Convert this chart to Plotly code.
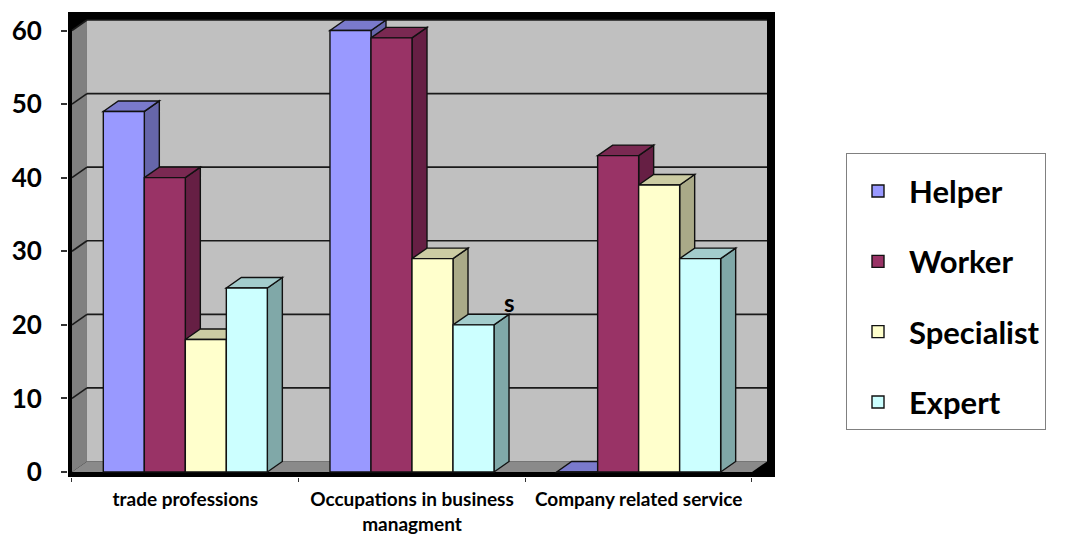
import plotly.graph_objects as go

# Occupation groups and the share of each qualification level
categories = ["trade professions", "Occupations in business<br>managment", "Company related service"]
series_names = ["Helper", "Worker", "Specialist", "Expert"]
helper = [49, 60, 0]
worker = [40, 59, 43]
specialist = [18, 29, 39]
expert = [25, 20, 29]
y_ticks = [0, 10, 20, 30, 40, 50, 60]

values = [helper, worker, specialist, expert]

# face colours: front, top, side
front_colors = ["#9999FF", "#993366", "#FFFFCC", "#CCFFFF"]
top_colors = ["#7A7ACC", "#7A2952", "#CCCCA3", "#A3CCCC"]
side_colors = ["#6666AA", "#661F44", "#AAAA88", "#80A8A8"]

# pseudo-3D depth offset (in axis units)
DX = 0.0662
DY = 1.427
BAR_W = 0.1809
N = len(series_names)

X_RANGE = [-0.5176, 2.6015]
Y_RANGE = [-0.6795, 62.514]
x_left, x_right = -0.5, len(categories) - 0.5
y_top = max(y_ticks)

FONT = "Lato"
EDGE = dict(color="#111111", width=1.4)


def poly(points):
    return "M " + " L ".join(f"{x},{y}" for x, y in points) + " Z"


shapes = []
# back wall
shapes.append(dict(type="path", layer="below",
                   path=poly([(x_left + DX, DY), (x_right + DX, DY),
                              (x_right + DX, y_top + DY), (x_left + DX, y_top + DY)]),
                   fillcolor="#C0C0C0", line=dict(width=0)))
# left side wall
shapes.append(dict(type="path", layer="below",
                   path=poly([(x_left, 0), (x_left + DX, DY),
                              (x_left + DX, y_top + DY), (x_left, y_top)]),
                   fillcolor="#808080", line=dict(width=0)))
# grid lines on the walls
for v in y_ticks[1:]:
    shapes.append(dict(type="line", layer="below", x0=x_left + DX, x1=x_right + DX,
                       y0=v + DY, y1=v + DY, line=dict(color="#1a1a1a", width=1.6)))
    shapes.append(dict(type="line", layer="below", x0=x_left, x1=x_left + DX,
                       y0=v, y1=v + DY, line=dict(color="#1a1a1a", width=1.6)))
# floor
shapes.append(dict(type="path", layer="below",
                   path=poly([(x_left, 0), (x_right, 0), (x_right + DX, DY), (x_left + DX, DY)]),
                   fillcolor="#8A8A8A", line=dict(width=0)))

# side and top faces of every bar, left to right
for c in range(len(categories)):
    for k in range(N):
        h = values[k][c]
        x0 = c - N * BAR_W / 2 + k * BAR_W
        x1 = x0 + BAR_W
        if h > 0:
            shapes.append(dict(type="path", layer="below",
                               path=poly([(x1, 0), (x1 + DX, DY), (x1 + DX, h + DY), (x1, h)]),
                               fillcolor=side_colors[k], line=EDGE))
        shapes.append(dict(type="path", layer="below",
                           path=poly([(x0, h), (x1, h), (x1 + DX, h + DY), (x0 + DX, h + DY)]),
                           fillcolor=top_colors[k], line=EDGE))

fig = go.Figure()
for k, name in enumerate(series_names):
    fig.add_trace(go.Bar(
        x=list(range(len(categories))), y=values[k], name=name,
        legendgroup=name,
        marker=dict(color=front_colors[k], line=EDGE),
        hoverinfo="skip",
    ))

fig.update_layout(
    width=1070, height=536, autosize=False,
    margin=dict(l=68, r=295, t=12, b=59, autoexpand=False),
    paper_bgcolor="white", plot_bgcolor="black",
    barmode="group", bargap=1 - N * BAR_W, bargroupgap=0,
    shapes=shapes,
    showlegend=True,
    legend=dict(
        x=(846 - 68) / 707, y=(477 - 153) / 465, xanchor="left", yanchor="top",
        bgcolor="white", bordercolor="#808080", borderwidth=1,
        font=dict(family=FONT, size=31, color="black", weight="bold"),
        title=dict(text="&nbsp;", font=dict(size=8)),
        itemwidth=52,
        tracegroupgap=27, traceorder="grouped",
    ),
    annotations=[dict(x=1.428, y=23.1, xref="x", yref="y", text="s", showarrow=False,
                      font=dict(family=FONT, size=24, color="black", weight="bold"))],
)

fig.update_xaxes(
    range=X_RANGE, showgrid=False, zeroline=False, showline=False, automargin=False,
    tickvals=list(range(len(categories))), ticktext=categories, ticks="",
    tickfont=dict(family=FONT, size=19, color="black", weight="bold"),
    ticklabelstandoff=9,
    minor=dict(tickvals=[c - 0.5 for c in range(len(categories) + 1)], ticks="outside",
               ticklen=4, tickcolor="#333333", tickwidth=1, showgrid=False),
)
fig.update_yaxes(
    range=Y_RANGE, showgrid=False, zeroline=False, showline=False, automargin=False,
    tickvals=y_ticks, ticks="outside", ticklen=6, tickcolor="#333333", tickwidth=1.5,
    tickfont=dict(family=FONT, size=26, color="black", weight="bold"),
    ticklabelstandoff=14,
)

fig.write_html("out.html")
